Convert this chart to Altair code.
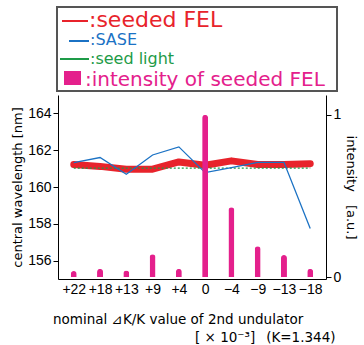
import altair as alt
import pandas as pd

categories = ["+22", "+18", "+13", "+9", "+4", "0", "−4", "−9", "−13", "−18"]
seeded_fel = [161.22, 161.12, 160.97, 160.97, 161.36, 161.18, 161.42, 161.22, 161.22, 161.27]
sase = [161.32, 161.60, 160.69, 161.74, 162.18, 160.78, 161.05, 161.34, 161.34, 157.74]
seed_light = [161.03, 161.03, 161.03, 161.03, 161.03, 161.03, 161.03, 161.03, 161.03, 161.03]
intensity = [0.037, 0.05, 0.04, 0.14, 0.05, 1.0, 0.43, 0.19, 0.136, 0.05]

legend_labels = [":seeded FEL", ":SASE", ":seed light", ":intensity of seeded FEL"]
x_title_lines = ["nominal ⊿K/K value of 2nd undulator", "[ × 10⁻³]\u2002 (K=1.344)"]
y_left_title = "central wavelength [nm]"
y_right_title = "intensity\u2003[a.u.]"
y_left_ticks = [156, 158, 160, 162, 164]
y_right_ticks = [0, 1]

RED = "#e8232b"
BLUE = "#1b72c4"
GREEN = "#1e9b48"
MAGENTA = "#e4208c"
NUMFONT = "Liberation Sans"
TXTFONT = "DejaVu Sans"

df = pd.DataFrame({
    "k": categories,
    "seeded": seeded_fel,
    "sase": sase,
    "seed": seed_light,
    "intensity": intensity,
})

xenc = alt.X(
    "k:N", sort=categories,
    scale=alt.Scale(type="point", padding=0.6),
    axis=alt.Axis(title=None, labelAngle=0, ticks=False, labelFontSize=14,
                  labelFont=NUMFONT, labelColor="black", labelPadding=3,
                  domainColor="black", domainWidth=1),
)
yscale = alt.Scale(domain=[155, 165], nice=False, zero=False)
left_axis = alt.Axis(values=y_left_ticks, title=y_left_title, grid=False,
                     tickSize=5, tickColor="black", domainColor="black",
                     labelFont=NUMFONT, labelFontSize=14, labelColor="black", labelPadding=2,
                     titleFont=TXTFONT, titleFontSize=13, titleFontWeight="normal",
                     titleColor="black", titlePadding=3)

base = alt.Chart(df)
red = base.mark_line(color=RED, strokeWidth=7, strokeCap="round", strokeJoin="round").encode(
    x=xenc, y=alt.Y("seeded:Q", scale=yscale, axis=left_axis))
green = base.mark_line(color=GREEN, strokeWidth=1.3, strokeDash=[2, 2]).encode(
    x=xenc, y=alt.Y("seed:Q", scale=yscale, axis=left_axis))
blue = base.mark_line(color=BLUE, strokeWidth=1.3).encode(
    x=xenc, y=alt.Y("sase:Q", scale=yscale, axis=left_axis))
lines = alt.layer(red, green, blue)

bars = base.mark_bar(color=MAGENTA, width=6, cornerRadiusEnd=3).encode(
    x=xenc,
    y=alt.Y("intensity:Q", scale=alt.Scale(domain=[-0.012, 1.123], nice=False, zero=False),
            axis=alt.Axis(orient="right", values=y_right_ticks, format="d",
                          title=y_right_title, grid=False,
                          tickSize=5, tickColor="black", domainColor="black",
                          labelFont=NUMFONT, labelFontSize=14, labelColor="black", labelPadding=2,
                          titleFont=TXTFONT, titleFontSize=13, titleFontWeight="normal",
                          titleColor="black", titlePadding=3)),
)

main = alt.layer(lines, bars).resolve_scale(y="independent")

one = pd.DataFrame({"a": [0]})
box = alt.Chart(one).mark_rect(fill="white", stroke="#555555", strokeWidth=2).encode(
    x=alt.value(-1), x2=alt.value(279), y=alt.value(-88), y2=alt.value(-4))
sym_red = alt.Chart(one).mark_rule(color=RED, strokeWidth=2).encode(
    x=alt.value(4), x2=alt.value(30), y=alt.value(-74))
sym_blue = alt.Chart(one).mark_rule(color=BLUE, strokeWidth=2).encode(
    x=alt.value(11), x2=alt.value(31), y=alt.value(-54))
sym_green = alt.Chart(one).mark_rule(color=GREEN, strokeWidth=2).encode(
    x=alt.value(2), x2=alt.value(31), y=alt.value(-36))
sym_mag = alt.Chart(one).mark_rect(color=MAGENTA).encode(
    x=alt.value(6), x2=alt.value(23), y=alt.value(-24), y2=alt.value(-10))

leg_specs = [(RED, 22, 31, -75.5), (BLUE, 16, 32, -55), (GREEN, 16, 32, -36.5), (MAGENTA, 20, 27, -15)]
leg_texts = []
for lab, (col, fs, xx, yy) in zip(legend_labels, leg_specs):
    leg_texts.append(
        alt.Chart(pd.DataFrame({"t": [lab]})).mark_text(
            color=col, fontSize=fs, font=TXTFONT, align="left", baseline="middle"
        ).encode(text="t:N", x=alt.value(xx), y=alt.value(yy))
    )

xt1 = alt.Chart(pd.DataFrame({"t": [x_title_lines[0]]})).mark_text(
    color="black", fontSize=13.5, font=TXTFONT, align="left", baseline="middle"
).encode(text="t:N", x=alt.value(-5), y=alt.value(225))
xt2 = alt.Chart(pd.DataFrame({"t": [x_title_lines[1]]})).mark_text(
    color="black", fontSize=13.5, font=TXTFONT, align="left", baseline="middle"
).encode(text="t:N", x=alt.value(137), y=alt.value(243))

chart = alt.layer(main, box, sym_red, sym_blue, sym_green, sym_mag, *leg_texts, xt1, xt2).properties(
    width=268, height=184,
    autosize=alt.AutoSizeParams(type="none"),
    padding={"left": 58, "top": 95, "right": 38, "bottom": 66},
    background="white",
).configure_view(stroke=None)

chart.save("out.html", embed_options={"renderer": "svg", "actions": False})
